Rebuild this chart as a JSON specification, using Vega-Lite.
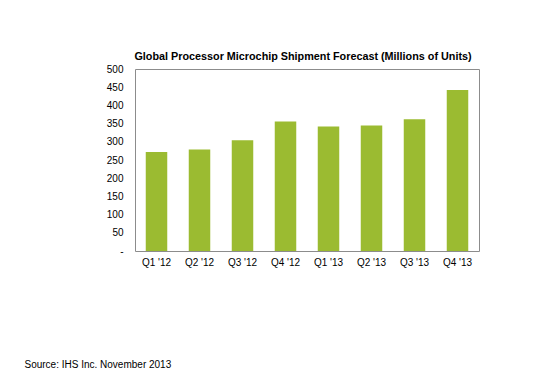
{
  "$schema": "https://vega.github.io/schema/vega-lite/v6.json",
  "width": 344,
  "height": 182,
  "autosize": {"type": "none"},
  "padding": {"left": 135, "top": 69, "right": 75, "bottom": 138},
  "background": "white",
  "config": {
    "font": "Liberation Sans",
    "view": {"stroke": "#8c8c8c", "strokeWidth": 1}
  },
  "title": {
    "text": "Global Processor Microchip Shipment Forecast (Millions of Units)",
    "fontSize": 10.8,
    "fontWeight": "bold",
    "color": "#000000",
    "anchor": "middle",
    "dx": -4,
    "offset": 2
  },
  "data": {
    "values": [
      {"quarter": "Q1 '12", "units": 272},
      {"quarter": "Q2 '12", "units": 279},
      {"quarter": "Q3 '12", "units": 304},
      {"quarter": "Q4 '12", "units": 356},
      {"quarter": "Q1 '13", "units": 342},
      {"quarter": "Q2 '13", "units": 345},
      {"quarter": "Q3 '13", "units": 362},
      {"quarter": "Q4 '13", "units": 442}
    ]
  },
  "mark": {"type": "bar", "color": "#9bbb31"},
  "encoding": {
    "x": {
      "field": "quarter",
      "type": "nominal",
      "sort": null,
      "scale": {"paddingInner": 0.5, "paddingOuter": 0.25},
      "axis": {
        "title": "Source: IHS Inc. November 2013",
        "titleFontSize": 10,
        "titleFontWeight": "normal",
        "titleColor": "#000000",
        "titleAnchor": null,
        "titleAlign": "left",
        "titleBaseline": "middle",
        "titleX": -111,
        "titleY": 113,
        "labelAngle": 0,
        "labelFontSize": 10,
        "labelColor": "#000000",
        "labelPadding": 6,
        "ticks": false,
        "domain": false
      }
    },
    "y": {
      "field": "units",
      "type": "quantitative",
      "scale": {"domain": [0, 500], "nice": false},
      "axis": {
        "title": null,
        "values": [0, 50, 100, 150, 200, 250, 300, 350, 400, 450, 500],
        "labelExpr": "datum.value == 0 ? '-\u00a0\u00a0' : datum.label",
        "labelFontSize": 10,
        "labelColor": "#000000",
        "labelPadding": 12,
        "ticks": false,
        "domain": false,
        "grid": false
      }
    }
  }
}
